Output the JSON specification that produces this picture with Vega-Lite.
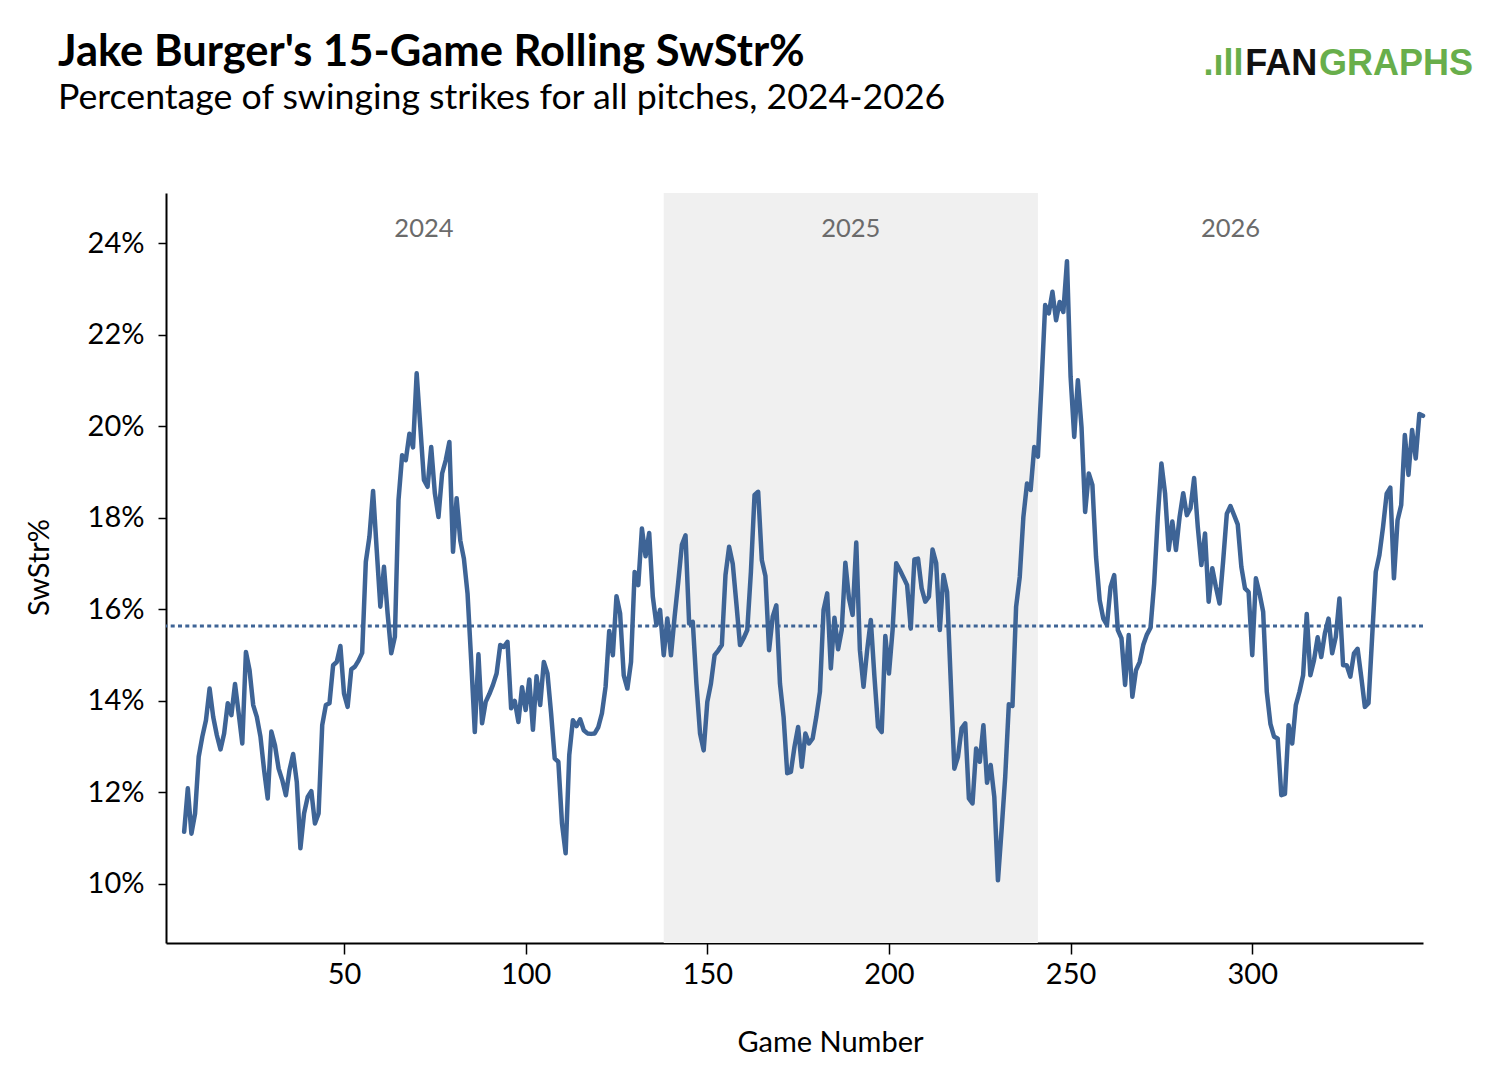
{
  "$schema": "https://vega.github.io/schema/vega-lite/v6.json",
  "width": 1257,
  "height": 750,
  "autosize": {"type": "none"},
  "padding": {"left": 166, "top": 193, "right": 71, "bottom": 129},
  "background": "white",
  "config": {"view": {"stroke": null}, "font": "Lato"},
  "title": {
    "text": "Jake Burger's 15-Game Rolling SwStr%",
    "subtitle": "Percentage of swinging strikes for all pitches, 2024-2026",
    "anchor": "start",
    "frame": "group",
    "dx": -108,
    "dy": 146,
    "offset": 75,
    "font": "Lato",
    "fontSize": 43.5,
    "fontWeight": "bold",
    "color": "black",
    "subtitleFont": "Lato",
    "subtitleFontSize": 35.7,
    "subtitleColor": "black",
    "subtitlePadding": 6
  },
  "datasets": {
    "rolling": [
      {"game":6,"swstr":11.14},{"game":7,"swstr":12.09},{"game":8,"swstr":11.10},{"game":9,"swstr":11.54},{"game":10,"swstr":12.78},
      {"game":11,"swstr":13.22},{"game":12,"swstr":13.58},{"game":13,"swstr":14.27},{"game":14,"swstr":13.65},{"game":15,"swstr":13.25},
      {"game":16,"swstr":12.94},{"game":17,"swstr":13.29},{"game":18,"swstr":13.95},{"game":19,"swstr":13.69},{"game":20,"swstr":14.37},
      {"game":21,"swstr":13.73},{"game":22,"swstr":13.07},{"game":23,"swstr":15.07},{"game":24,"swstr":14.67},{"game":25,"swstr":13.91},
      {"game":26,"swstr":13.65},{"game":27,"swstr":13.22},{"game":28,"swstr":12.49},{"game":29,"swstr":11.87},{"game":30,"swstr":13.33},
      {"game":31,"swstr":13.03},{"game":32,"swstr":12.52},{"game":33,"swstr":12.27},{"game":34,"swstr":11.94},{"game":35,"swstr":12.49},
      {"game":36,"swstr":12.84},{"game":37,"swstr":12.23},{"game":38,"swstr":10.78},{"game":39,"swstr":11.54},{"game":40,"swstr":11.90},
      {"game":41,"swstr":12.03},{"game":42,"swstr":11.32},{"game":43,"swstr":11.54},{"game":44,"swstr":13.47},{"game":45,"swstr":13.91},
      {"game":46,"swstr":13.95},{"game":47,"swstr":14.78},{"game":48,"swstr":14.85},{"game":49,"swstr":15.20},{"game":50,"swstr":14.16},
      {"game":51,"swstr":13.87},{"game":52,"swstr":14.69},{"game":53,"swstr":14.75},{"game":54,"swstr":14.88},{"game":55,"swstr":15.05},
      {"game":56,"swstr":17.04},{"game":57,"swstr":17.59},{"game":58,"swstr":18.59},{"game":59,"swstr":17.30},{"game":60,"swstr":16.06},
      {"game":61,"swstr":16.93},{"game":62,"swstr":15.91},{"game":63,"swstr":15.04},{"game":64,"swstr":15.40},{"game":65,"swstr":18.39},
      {"game":66,"swstr":19.37},{"game":67,"swstr":19.26},{"game":68,"swstr":19.84},{"game":69,"swstr":19.54},{"game":70,"swstr":21.16},
      {"game":71,"swstr":19.99},{"game":72,"swstr":18.83},{"game":73,"swstr":18.68},{"game":74,"swstr":19.55},{"game":75,"swstr":18.54},
      {"game":76,"swstr":18.02},{"game":77,"swstr":18.97},{"game":78,"swstr":19.26},{"game":79,"swstr":19.66},{"game":80,"swstr":17.26},
      {"game":81,"swstr":18.43},{"game":82,"swstr":17.51},{"game":83,"swstr":17.11},{"game":84,"swstr":16.35},{"game":85,"swstr":14.89},
      {"game":86,"swstr":13.32},{"game":87,"swstr":15.02},{"game":88,"swstr":13.51},{"game":89,"swstr":13.98},{"game":90,"swstr":14.15},
      {"game":91,"swstr":14.35},{"game":92,"swstr":14.60},{"game":93,"swstr":15.22},{"game":94,"swstr":15.18},{"game":95,"swstr":15.29},
      {"game":96,"swstr":13.84},{"game":97,"swstr":14.00},{"game":98,"swstr":13.54},{"game":99,"swstr":14.30},{"game":100,"swstr":13.80},
      {"game":101,"swstr":14.47},{"game":102,"swstr":13.37},{"game":103,"swstr":14.54},{"game":104,"swstr":13.91},{"game":105,"swstr":14.85},
      {"game":106,"swstr":14.60},{"game":107,"swstr":13.73},{"game":108,"swstr":12.74},{"game":109,"swstr":12.67},{"game":110,"swstr":11.32},
      {"game":111,"swstr":10.67},{"game":112,"swstr":12.82},{"game":113,"swstr":13.58},{"game":114,"swstr":13.45},{"game":115,"swstr":13.60},
      {"game":116,"swstr":13.36},{"game":117,"swstr":13.29},{"game":118,"swstr":13.28},{"game":119,"swstr":13.29},{"game":120,"swstr":13.43},
      {"game":121,"swstr":13.73},{"game":122,"swstr":14.31},{"game":123,"swstr":15.53},{"game":124,"swstr":15.00},{"game":125,"swstr":16.29},
      {"game":126,"swstr":15.91},{"game":127,"swstr":14.56},{"game":128,"swstr":14.27},{"game":129,"swstr":14.85},{"game":130,"swstr":16.82},
      {"game":131,"swstr":16.53},{"game":132,"swstr":17.77},{"game":133,"swstr":17.16},{"game":134,"swstr":17.67},{"game":135,"swstr":16.28},
      {"game":136,"swstr":15.66},{"game":137,"swstr":15.99},{"game":138,"swstr":15.00},{"game":139,"swstr":15.80},{"game":140,"swstr":15.00},
      {"game":141,"swstr":15.84},{"game":142,"swstr":16.60},{"game":143,"swstr":17.41},{"game":144,"swstr":17.62},{"game":145,"swstr":15.69},
      {"game":146,"swstr":15.73},{"game":147,"swstr":14.38},{"game":148,"swstr":13.29},{"game":149,"swstr":12.92},{"game":150,"swstr":13.98},
      {"game":151,"swstr":14.38},{"game":152,"swstr":15.00},{"game":153,"swstr":15.10},{"game":154,"swstr":15.22},{"game":155,"swstr":16.75},
      {"game":156,"swstr":17.37},{"game":157,"swstr":17.00},{"game":158,"swstr":16.13},{"game":159,"swstr":15.22},{"game":160,"swstr":15.37},
      {"game":161,"swstr":15.55},{"game":162,"swstr":16.82},{"game":163,"swstr":18.50},{"game":164,"swstr":18.57},{"game":165,"swstr":17.08},
      {"game":166,"swstr":16.73},{"game":167,"swstr":15.11},{"game":168,"swstr":15.84},{"game":169,"swstr":16.09},{"game":170,"swstr":14.38},
      {"game":171,"swstr":13.65},{"game":172,"swstr":12.42},{"game":173,"swstr":12.45},{"game":174,"swstr":13.00},{"game":175,"swstr":13.43},
      {"game":176,"swstr":12.56},{"game":177,"swstr":13.29},{"game":178,"swstr":13.07},{"game":179,"swstr":13.18},{"game":180,"swstr":13.65},
      {"game":181,"swstr":14.20},{"game":182,"swstr":15.99},{"game":183,"swstr":16.35},{"game":184,"swstr":14.71},{"game":185,"swstr":15.82},
      {"game":186,"swstr":15.13},{"game":187,"swstr":15.55},{"game":188,"swstr":17.02},{"game":189,"swstr":16.24},{"game":190,"swstr":15.88},
      {"game":191,"swstr":17.46},{"game":192,"swstr":15.11},{"game":193,"swstr":14.31},{"game":194,"swstr":15.11},{"game":195,"swstr":15.77},
      {"game":196,"swstr":14.53},{"game":197,"swstr":13.43},{"game":198,"swstr":13.32},{"game":199,"swstr":15.42},{"game":200,"swstr":14.60},
      {"game":201,"swstr":15.55},{"game":202,"swstr":17.01},{"game":203,"swstr":16.86},{"game":204,"swstr":16.70},{"game":205,"swstr":16.53},
      {"game":206,"swstr":15.58},{"game":207,"swstr":17.09},{"game":208,"swstr":17.11},{"game":209,"swstr":16.46},{"game":210,"swstr":16.17},
      {"game":211,"swstr":16.28},{"game":212,"swstr":17.31},{"game":213,"swstr":17.01},{"game":214,"swstr":15.55},{"game":215,"swstr":16.75},
      {"game":216,"swstr":16.38},{"game":217,"swstr":14.45},{"game":218,"swstr":12.52},{"game":219,"swstr":12.78},{"game":220,"swstr":13.40},
      {"game":221,"swstr":13.51},{"game":222,"swstr":11.87},{"game":223,"swstr":11.76},{"game":224,"swstr":12.96},{"game":225,"swstr":12.67},
      {"game":226,"swstr":13.47},{"game":227,"swstr":12.21},{"game":228,"swstr":12.60},{"game":229,"swstr":11.90},{"game":230,"swstr":10.08},
      {"game":231,"swstr":11.18},{"game":232,"swstr":12.34},{"game":233,"swstr":13.93},{"game":234,"swstr":13.89},{"game":235,"swstr":16.06},
      {"game":236,"swstr":16.71},{"game":237,"swstr":18.02},{"game":238,"swstr":18.75},{"game":239,"swstr":18.61},{"game":240,"swstr":19.55},
      {"game":241,"swstr":19.34},{"game":242,"swstr":20.94},{"game":243,"swstr":22.65},{"game":244,"swstr":22.47},{"game":245,"swstr":22.94},
      {"game":246,"swstr":22.32},{"game":247,"swstr":22.72},{"game":248,"swstr":22.50},{"game":249,"swstr":23.61},{"game":250,"swstr":21.08},
      {"game":251,"swstr":19.77},{"game":252,"swstr":21.01},{"game":253,"swstr":19.99},{"game":254,"swstr":18.13},{"game":255,"swstr":18.97},
      {"game":256,"swstr":18.72},{"game":257,"swstr":17.15},{"game":258,"swstr":16.20},{"game":259,"swstr":15.80},{"game":260,"swstr":15.66},
      {"game":261,"swstr":16.49},{"game":262,"swstr":16.75},{"game":263,"swstr":15.55},{"game":264,"swstr":15.37},{"game":265,"swstr":14.35},
      {"game":266,"swstr":15.44},{"game":267,"swstr":14.09},{"game":268,"swstr":14.67},{"game":269,"swstr":14.85},{"game":270,"swstr":15.22},
      {"game":271,"swstr":15.45},{"game":272,"swstr":15.60},{"game":273,"swstr":16.57},{"game":274,"swstr":18.02},{"game":275,"swstr":19.19},
      {"game":276,"swstr":18.54},{"game":277,"swstr":17.30},{"game":278,"swstr":17.92},{"game":279,"swstr":17.30},{"game":280,"swstr":18.02},
      {"game":281,"swstr":18.54},{"game":282,"swstr":18.06},{"game":283,"swstr":18.21},{"game":284,"swstr":18.87},{"game":285,"swstr":17.81},
      {"game":286,"swstr":16.97},{"game":287,"swstr":17.66},{"game":288,"swstr":16.17},{"game":289,"swstr":16.90},{"game":290,"swstr":16.49},
      {"game":291,"swstr":16.13},{"game":292,"swstr":17.07},{"game":293,"swstr":18.09},{"game":294,"swstr":18.26},{"game":295,"swstr":18.06},
      {"game":296,"swstr":17.86},{"game":297,"swstr":16.93},{"game":298,"swstr":16.46},{"game":299,"swstr":16.38},{"game":300,"swstr":15.00},
      {"game":301,"swstr":16.68},{"game":302,"swstr":16.35},{"game":303,"swstr":15.95},{"game":304,"swstr":14.20},{"game":305,"swstr":13.50},
      {"game":306,"swstr":13.22},{"game":307,"swstr":13.18},{"game":308,"swstr":11.94},{"game":309,"swstr":11.97},{"game":310,"swstr":13.47},
      {"game":311,"swstr":13.07},{"game":312,"swstr":13.91},{"game":313,"swstr":14.20},{"game":314,"swstr":14.56},{"game":315,"swstr":15.90},
      {"game":316,"swstr":14.56},{"game":317,"swstr":14.89},{"game":318,"swstr":15.39},{"game":319,"swstr":14.96},{"game":320,"swstr":15.48},
      {"game":321,"swstr":15.80},{"game":322,"swstr":15.04},{"game":323,"swstr":15.40},{"game":324,"swstr":16.24},{"game":325,"swstr":14.78},
      {"game":326,"swstr":14.78},{"game":327,"swstr":14.53},{"game":328,"swstr":15.04},{"game":329,"swstr":15.14},{"game":330,"swstr":14.53},
      {"game":331,"swstr":13.87},{"game":332,"swstr":13.95},{"game":333,"swstr":15.40},{"game":334,"swstr":16.82},{"game":335,"swstr":17.19},
      {"game":336,"swstr":17.80},{"game":337,"swstr":18.53},{"game":338,"swstr":18.66},{"game":339,"swstr":16.68},{"game":340,"swstr":17.95},
      {"game":341,"swstr":18.28},{"game":342,"swstr":19.81},{"game":343,"swstr":18.94},{"game":344,"swstr":19.92},{"game":345,"swstr":19.30},
      {"game":346,"swstr":20.27},{"game":347,"swstr":20.23}
    ],
    "seasons": [
      {"season": "2024", "start": 6, "end": 138, "mid": 72},
      {"season": "2025", "start": 138, "end": 241, "mid": 189.5},
      {"season": "2026", "start": 241, "end": 347, "mid": 294}
    ],
    "reference": [
      {"label": "mean", "swstr": 15.635}
    ],
    "logo": [
      {"part": ".ıll", "pos": 297.6},
      {"part": "FAN", "pos": 298.1},
      {"part": "GRAPHS", "pos": 318.4}
    ]
  },
  "layer": [
    {
      "data": {"name": "seasons"},
      "transform": [{"filter": "datum.season == '2025'"}],
      "mark": {"type": "rect", "color": "#f0f0f0"},
      "encoding": {
        "x": {"field": "start", "type": "quantitative", "scale": {"domain": [1, 347], "nice": false, "zero": false}},
        "x2": {"field": "end"}
      }
    },
    {
      "data": {"name": "seasons"},
      "mark": {"type": "text", "font": "Lato", "fontSize": 25.5, "color": "#6b6b6b", "baseline": "middle", "align": "center"},
      "encoding": {
        "x": {"field": "mid", "type": "quantitative"},
        "y": {"datum": 24.31, "type": "quantitative"},
        "text": {"field": "season"}
      }
    },
    {
      "data": {"name": "reference"},
      "mark": {"type": "rule", "color": "#3e6496", "strokeWidth": 3, "strokeDash": [4, 3.3]},
      "encoding": {
        "y": {"field": "swstr", "type": "quantitative"}
      }
    },
    {
      "data": {"name": "rolling"},
      "mark": {"type": "line", "color": "#3e6496", "strokeWidth": 4.5, "strokeJoin": "round", "strokeCap": "round"},
      "encoding": {
        "x": {
          "field": "game", "type": "quantitative",
          "scale": {"domain": [1, 347], "nice": false, "zero": false},
          "axis": {
            "values": [50, 100, 150, 200, 250, 300],
            "grid": false,
            "domainColor": "black", "domainWidth": 2,
            "tickColor": "black", "tickWidth": 1.5, "tickSize": 11,
            "labelFont": "Lato", "labelFontSize": 29, "labelColor": "black", "labelPadding": 6,
            "title": "Game Number",
            "titleFont": "Lato", "titleFontSize": 29, "titleFontWeight": "normal", "titleColor": "black",
            "titleX": 664, "titleY": 99, "titleBaseline": "middle", "titleAlign": "center"
          }
        },
        "y": {
          "field": "swstr", "type": "quantitative",
          "scale": {"domain": [8.71, 25.1], "nice": false, "zero": false},
          "axis": {
            "values": [10, 12, 14, 16, 18, 20, 22, 24],
            "labelExpr": "datum.value + '%'",
            "grid": false,
            "domainColor": "black", "domainWidth": 2,
            "tickColor": "black", "tickWidth": 1.5, "tickSize": 8,
            "labelFont": "Lato", "labelFontSize": 29, "labelColor": "black", "labelPadding": 14,
            "title": "SwStr%",
            "titleFont": "Lato", "titleFontSize": 29, "titleFontWeight": "normal", "titleColor": "black",
            "titleX": -127, "titleY": 374, "titleAngle": -90, "titleBaseline": "middle", "titleAlign": "center"
          }
        }
      }
    },
    {
      "data": {"name": "logo"},
      "transform": [{"filter": "datum.part == '.ıll'"}],
      "mark": {"type": "text", "font": "Liberation Sans", "fontWeight": "bold", "fontSize": 36, "baseline": "middle", "align": "right", "color": "#68ae4b", "clip": false},
      "encoding": {
        "x": {"field": "pos", "type": "quantitative"},
        "y": {"datum": 27.92, "type": "quantitative"},
        "text": {"field": "part"}
      }
    },
    {
      "data": {"name": "logo"},
      "transform": [{"filter": "datum.part == 'FAN'"}],
      "mark": {"type": "text", "font": "Liberation Sans", "fontWeight": "bold", "fontSize": 36, "baseline": "middle", "align": "left", "color": "#111111", "clip": false},
      "encoding": {
        "x": {"field": "pos", "type": "quantitative"},
        "y": {"datum": 27.92, "type": "quantitative"},
        "text": {"field": "part"}
      }
    },
    {
      "data": {"name": "logo"},
      "transform": [{"filter": "datum.part == 'GRAPHS'"}],
      "mark": {"type": "text", "font": "Liberation Sans", "fontWeight": "bold", "fontSize": 36, "baseline": "middle", "align": "left", "color": "#68ae4b", "clip": false},
      "encoding": {
        "x": {"field": "pos", "type": "quantitative"},
        "y": {"datum": 27.92, "type": "quantitative"},
        "text": {"field": "part"}
      }
    }
  ]
}
